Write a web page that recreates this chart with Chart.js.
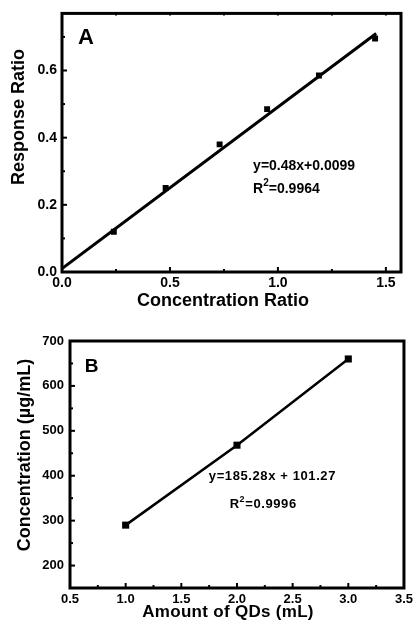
<!DOCTYPE html>
<html>
<head>
<meta charset="utf-8">
<script src="https://cdn.jsdelivr.net/npm/chart.js@4.4.0/dist/chart.umd.min.js"></script>
<style>
  body { margin: 0; background: #fff; }
  .box { position: absolute; left: 0; width: 417px; }
  #boxA { top: 0; height: 310px; }
  #boxB { top: 310px; height: 317px; }
</style>
</head>
<body>
<div class="box" id="boxA"><canvas id="chartA"></canvas></div>
<div class="box" id="boxB"><canvas id="chartB"></canvas></div>
<script>
// panel A: response ratio vs concentration ratio
var ratioX = [0.24, 0.48, 0.73, 0.95, 1.19, 1.45];
var ratioY = [0.12, 0.25, 0.38, 0.485, 0.585, 0.695];
var fitAX = [0, 1.455];
var fitAY = [0.01, 0.71];

// panel B: concentration vs amount of QDs
var qdX = [1, 2, 3];
var qdY = [290, 468, 660];

var FONT = "'Liberation Sans', Arial, sans-serif";
Chart.defaults.color = '#000';
Chart.defaults.font.family = FONT;

function pts(xs, ys) {
  return xs.map(function(x, i) { return {x: x, y: ys[i]}; });
}

// box round the plot with inward ticks
var framePlugin = {
  id: 'frame',
  afterDatasetsDraw: function(chart, args, opts) {
    var ctx = chart.ctx, a = chart.chartArea;
    var xs = chart.scales.x, ys = chart.scales.y;
    ctx.save();
    ctx.strokeStyle = '#000';
    ctx.lineWidth = 2;
    function values(scale, step) {
      var out = [];
      var v = Math.ceil(scale.min / step - 1e-9) * step;
      while (v <= scale.max + 1e-9) { out.push(v); v += step; }
      return out;
    }
    values(xs, opts.minorX).forEach(function(v) {
      var px = xs.getPixelForValue(v);
      if (px < a.left + 3 || px > a.right - 3) return;
      var major = xs.ticks.some(function(t) { return Math.abs(t.value - v) < 1e-6; });
      var len = major ? opts.major : opts.minor;
      ctx.beginPath();
      ctx.moveTo(px, a.bottom);
      ctx.lineTo(px, a.bottom - len);
      if (opts.mirror) {
        ctx.moveTo(px, a.top);
        ctx.lineTo(px, a.top + opts.mirror);
      }
      ctx.stroke();
    });
    values(ys, opts.minorY).forEach(function(v) {
      var py = ys.getPixelForValue(v);
      if (py < a.top + 3 || py > a.bottom - 3) return;
      var major = ys.ticks.some(function(t) { return Math.abs(t.value - v) < 1e-6; });
      var len = major ? opts.major : opts.minor;
      ctx.beginPath();
      ctx.moveTo(a.left, py);
      ctx.lineTo(a.left + len, py);
      ctx.stroke();
    });
    ctx.lineWidth = opts.width;
    ctx.strokeRect(a.left, a.top, a.right - a.left, a.bottom - a.top);
    ctx.restore();
  }
};

// panel letter, fit equations and axis titles
var notesPlugin = {
  id: 'notes',
  afterDatasetsDraw: function(chart, args, opts) {
    var ctx = chart.ctx;
    ctx.save();
    ctx.fillStyle = '#000';
    ctx.textBaseline = 'middle';
    ctx.textAlign = 'left';
    (opts.items || []).forEach(function(it) {
      var x = chart.scales.x.getPixelForValue(it.x);
      var y = chart.scales.y.getPixelForValue(it.y);
      ctx.letterSpacing = (it.spacing || 0) + 'px';
      ctx.font = 'bold ' + it.size + 'px ' + FONT;
      ctx.fillText(it.text, x, y);
      if (it.sup) {
        x += ctx.measureText(it.text).width;
        ctx.font = 'bold ' + Math.round(it.size * 0.72) + 'px ' + FONT;
        ctx.fillText(it.sup, x, y - it.size * 0.38);
        x += ctx.measureText(it.sup).width;
        ctx.font = 'bold ' + it.size + 'px ' + FONT;
        ctx.fillText(it.post, x, y);
      }
    });
    ctx.textAlign = 'center';
    (opts.titles || []).forEach(function(t) {
      ctx.save();
      ctx.translate(t.cx, t.cy);
      if (t.rot) ctx.rotate(t.rot);
      ctx.font = 'bold ' + t.size + 'px ' + FONT;
      ctx.letterSpacing = (t.spacing || 0) + 'px';
      ctx.fillText(t.text, 0, 0);
      ctx.restore();
    });
    ctx.restore();
  }
};

new Chart(document.getElementById('chartA'), {
  type: 'scatter',
  data: {
    datasets: [
      {
        data: pts(fitAX, fitAY),
        showLine: true,
        borderColor: '#000',
        borderWidth: 3,
        pointRadius: 0
      },
      {
        data: pts(ratioX, ratioY),
        pointStyle: 'rect',
        pointRadius: 4.2,
        backgroundColor: '#000',
        borderWidth: 0
      }
    ]
  },
  options: {
    responsive: true,
    maintainAspectRatio: false,
    animation: false,
    layout: { padding: { top: 10, right: 16, left: 0, bottom: 0 } },
    plugins: {
      legend: { display: false },
      tooltip: { enabled: false },
      frame: { width: 3, major: 5, minor: 3, mirror: 2, minorX: 0.25, minorY: 0.1 },
      notes: {
        items: [
          { x: 0.074, y: 0.697, text: 'A', size: 22 },
          { x: 0.885, y: 0.315, text: 'y=0.48x+0.0099', size: 14 },
          { x: 0.885, y: 0.247, text: 'R', sup: '2', post: '=0.9964', size: 14 }
        ],
        titles: [
          { text: 'Response Ratio', cx: 19, cy: 117, rot: -Math.PI / 2, size: 18 },
          { text: 'Concentration Ratio', cx: 223, cy: 301, size: 18 }
        ]
      }
    },
    scales: {
      x: {
        type: 'linear',
        min: 0,
        max: 1.57,
        grid: { display: false, drawTicks: false },
        border: { display: false },
        ticks: {
          stepSize: 0.5,
          includeBounds: false,
          padding: 3,
          font: { size: 14, weight: 'bold' },
          callback: function(v) { return v.toFixed(1); }
        },
        afterFit: function(s) { s.height = 38; }
      },
      y: {
        min: 0,
        max: 0.77,
        grid: { display: false, drawTicks: false },
        border: { display: false },
        ticks: {
          stepSize: 0.2,
          includeBounds: false,
          padding: 5,
          font: { size: 14, weight: 'bold' },
          callback: function(v) { return v.toFixed(1); }
        },
        afterFit: function(s) { s.width = 62; }
      }
    }
  },
  plugins: [framePlugin, notesPlugin]
});

new Chart(document.getElementById('chartB'), {
  type: 'scatter',
  data: {
    datasets: [
      {
        data: pts(qdX, qdY),
        showLine: true,
        borderColor: '#000',
        borderWidth: 2.5,
        pointStyle: 'rect',
        pointRadius: 5,
        backgroundColor: '#000',
        pointBorderWidth: 0
      }
    ]
  },
  options: {
    responsive: true,
    maintainAspectRatio: false,
    animation: false,
    layout: { padding: { top: 31, right: 10, left: 0, bottom: 0 } },
    plugins: {
      legend: { display: false },
      tooltip: { enabled: false },
      frame: { width: 3, major: 5, minor: 3, mirror: 0, minorX: 0.25, minorY: 50 },
      notes: {
        items: [
          { x: 0.633, y: 642, text: 'B', size: 19 },
          { x: 1.747, y: 399, text: 'y=185.28x + 101.27', size: 13, spacing: 0.6 },
          { x: 1.934, y: 337, text: 'R', sup: '2', post: '=0.9996', size: 13, spacing: 0.6 }
        ],
        titles: [
          { text: 'Concentration (µg/mL)', cx: 25, cy: 145, rot: -Math.PI / 2, size: 18 },
          { text: 'Amount of QDs (mL)', cx: 228, cy: 302, size: 17, spacing: 0.3 }
        ]
      }
    },
    scales: {
      x: {
        type: 'linear',
        min: 0.5,
        max: 3.5,
        grid: { display: false, drawTicks: false },
        border: { display: false },
        ticks: {
          stepSize: 0.5,
          includeBounds: false,
          padding: 4,
          font: { size: 13, weight: 'bold' },
          callback: function(v) { return v.toFixed(1); }
        },
        afterFit: function(s) { s.height = 39; }
      },
      y: {
        min: 150,
        max: 700,
        grid: { display: false, drawTicks: false },
        border: { display: false },
        ticks: {
          stepSize: 100,
          includeBounds: false,
          padding: 6,
          font: { size: 13, weight: 'bold' }
        },
        afterFit: function(s) { s.width = 70; }
      }
    }
  },
  plugins: [framePlugin, notesPlugin]
});
</script>
</body>
</html>
